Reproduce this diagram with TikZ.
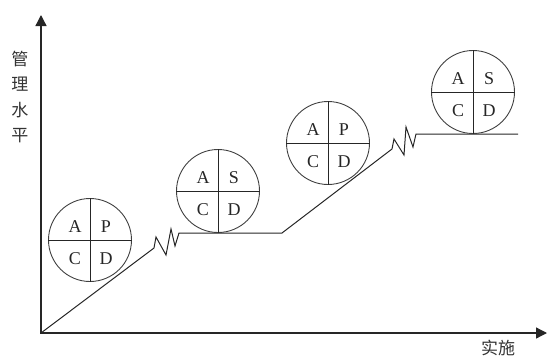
\documentclass[tikz,border=0pt]{standalone}
\usepackage{fontspec}
\setmainfont{Liberation Serif}
\newfontfamily\cjk{Noto Sans CJK SC}
\usetikzlibrary{arrows.meta}

\begin{document}
\begin{tikzpicture}[x=1pt,y=-1pt,
	pdca/.style={shape=circle,draw=black!75,line width=0.9pt,minimum size=83pt,inner sep=0pt},
	quad/.style={draw=black!85,line width=1pt},
	letter/.style={font=\fontsize{18}{18}\selectfont,text=black!85,inner sep=0pt},
	axis/.style={line width=1.3pt,draw=black!85,{Triangle[length=11pt,width=11pt]}-{Triangle[length=11pt,width=11pt]}},
	trend/.style={line width=1pt,draw=black!85}]
	\useasboundingbox (0,0) rectangle (549,356);
	
	\coordinate (o) at (41,333);
	\coordinate (ytip) at (41,15);
	\coordinate (xtip) at (547,333);
	\coordinate (z1) at (154,248);
	\coordinate (h1) at (282,233);
	\coordinate (z2) at (392,149);
	\coordinate (h2) at (518,134);
	
	\draw[axis] (ytip) -- (o) -- (xtip);
	\node[font=\cjk\fontsize{17}{25.3}\selectfont,align=center,text=black!80] (ylab) at (20,97) {管\\理\\水\\平};
	\node[font=\cjk\fontsize{17}{17}\selectfont,text=black!80] (xlab) at (498,348) {实施};
	
	\draw[trend] (o) -- (z1) -- ++(2,-11) -- ++(10,18) -- ++(5,-26) -- ++(4,17) -- ++(4,-13) -- (h1)
		-- (z2) -- ++(2,-10) -- ++(10,16) -- ++(2,-28) -- ++(7,20) -- ++(3,-13) -- (h2);
	
	\foreach \n/\x/\y/\a/\b in {1/90/240/A/P, 2/218/191/A/S, 3/328/143/A/P, 4/473/92/A/S} {
		\node[pdca] (c\n) at (\x,\y) {};
		\draw[quad] (c\n.north) -- (c\n.south);
		\draw[quad] (c\n.west) -- (c\n.east);
		\node[letter] (a\n) at (\x-15,\y-13) {\a};
		\node[letter] (b\n) at (\x+16,\y-13) {\b};
		\node[letter] (k\n) at (\x-15,\y+19) {C};
		\node[letter] (d\n) at (\x+16,\y+19) {D};
	}
\end{tikzpicture}
\end{document}
